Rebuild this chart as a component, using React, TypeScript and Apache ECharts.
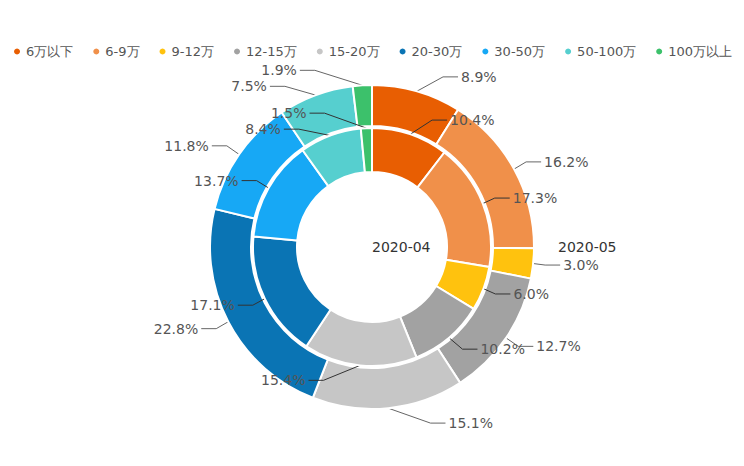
import React, { useEffect, useRef } from "react";
import * as echarts from "echarts";

const categories = ["6万以下", "6-9万", "9-12万", "12-15万", "15-20万", "20-30万", "30-50万", "50-100万", "100万以上"];
const colors = ["#e85e02", "#f0904a", "#ffc20e", "#a2a2a2", "#c6c6c6", "#0a74b4", "#17a8f5", "#56cfcf", "#3cc16b"];
const innerName = "2020-04";
const outerName = "2020-05";
const innerValues = [10.4, 17.3, 6.0, 10.2, 15.4, 17.1, 13.7, 8.4, 1.5];
const outerValues = [8.9, 16.2, 3.0, 12.7, 15.1, 22.8, 11.8, 7.5, 1.9];

const FONT = "DejaVu Sans";
const CX = 364;
const CY = 239;
const RINGS = [
  [75, 119],
  [121, 162],
];
const LEN = 15;
const LEN2 = 15;

export default function App() {
  const ref = useRef<HTMLDivElement>(null);
  useEffect(() => {
    if (!ref.current) return;
    const chart = echarts.init(ref.current, null, { renderer: "svg" });
    const mk = (vals: number[]) =>
      vals.map((v, i) => ({ name: categories[i], value: v, itemStyle: { color: colors[i] } }));
    const fmt = (p: any) => Number(p.value).toFixed(1) + "%";

    // Classic pie label placement: labels sit on a circle of radius r + length + length2
    const labelLayout = (params: any) => {
      const pts = params.labelLinePoints;
      if (!pts) return {};
      const r = RINGS[params.seriesIndex][1];
      const p0 = pts[0];
      const dir = p0[0] >= CX ? 1 : -1;
      const lr = params.labelRect;
      const y = lr.y + lr.height / 2;
      const dy = Math.abs(y - CY);
      const R = r + LEN + LEN2;
      let dx: number;
      if (dy < r + LEN) {
        dx = Math.sqrt(R * R - dy * dy);
      } else {
        dx = Math.abs(pts[2][0] + dir * 5 - CX);
      }
      const textX = CX + dir * dx;
      const x3 = textX - dir * 3;
      const x2 = x3 - dir * LEN2;
      return {
        x: textX,
        y: y,
        align: dir > 0 ? "left" : "right",
        verticalAlign: "middle",
        labelLinePoints: [
          [p0[0], p0[1]],
          [x2, y],
          [x3, y],
        ],
      };
    };

    const mkSeries = (name: string, idx: number, vals: number[], lineColor: string, z: number) => ({
      name,
      type: "pie",
      z,
      center: [CX, CY],
      radius: RINGS[idx],
      startAngle: 90,
      clockwise: true,
      itemStyle: { borderColor: "#fff", borderWidth: 2 },
      label: { show: true, position: "outside", formatter: fmt, fontSize: 14, fontFamily: FONT, color: "#555" },
      labelLine: { show: true, length: LEN, length2: LEN2, lineStyle: { color: lineColor, width: 1 } },
      labelLayout,
      data: mk(vals),
    });

    chart.setOption({
      animation: false,
      color: colors,
      textStyle: { fontFamily: FONT },
      legend: {
        top: 32,
        left: "center",
        padding: [5, 0],
        itemWidth: 8,
        itemHeight: 8,
        itemGap: 18,
        icon: "circle",
        textStyle: { fontSize: 13, color: "#555", fontFamily: FONT },
        data: categories,
      },
      graphic: [
        { type: "text", x: CX, y: CY, z: 10, style: { text: innerName, fontSize: 14, fontFamily: FONT, fill: "#333", textAlign: "left", textVerticalAlign: "middle" } },
        { type: "text", x: 550, y: CY, z: 10, style: { text: outerName, fontSize: 14, fontFamily: FONT, fill: "#333", textAlign: "left", textVerticalAlign: "middle" } },
      ],
      series: [
        mkSeries(innerName, 0, innerValues, "#333", 3),
        mkSeries(outerName, 1, outerValues, "#666", 2),
      ],
    });
    return () => chart.dispose();
  }, []);
  return <div ref={ref} style={{ width: 728, height: 450 }} />;
}
